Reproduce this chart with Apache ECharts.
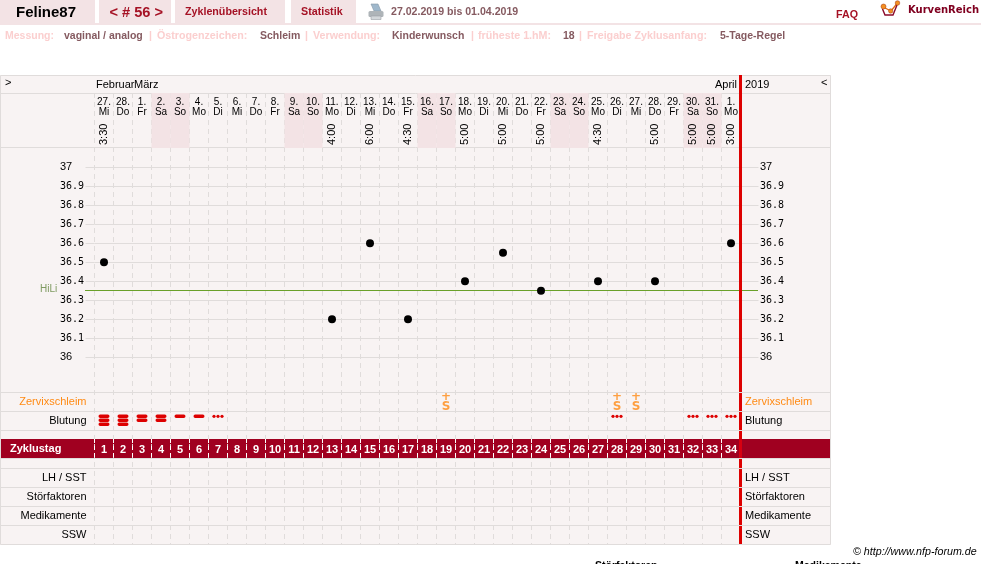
<!DOCTYPE html>
<html><head><meta charset="utf-8">
<style>html,body{margin:0;padding:0;background:#fff}#c{width:981px;height:564px}</style>
<script src="https://cdn.jsdelivr.net/npm/echarts@6/dist/echarts.min.js"></script>
</head><body><div id="c"></div>
<script>
// ---- data ----
const cycleDays = ['1','2','3','4','5','6','7','8','9','10','11','12','13','14','15','16','17','18','19','20','21','22','23','24','25','26','27','28','29','30','31','32','33','34'];
const dateNums = ['27.','28.','1.','2.','3.','4.','5.','6.','7.','8.','9.','10.','11.','12.','13.','14.','15.','16.','17.','18.','19.','20.','21.','22.','23.','24.','25.','26.','27.','28.','29.','30.','31.','1.'];
const weekdays = ['Mi','Do','Fr','Sa','So','Mo','Di','Mi','Do','Fr','Sa','So','Mo','Di','Mi','Do','Fr','Sa','So','Mo','Di','Mi','Do','Fr','Sa','So','Mo','Di','Mi','Do','Fr','Sa','So','Mo'];
const times = ['3:30','','','','','','','','','','','','4:00','','6:00','','4:30','','','5:00','','5:00','','5:00','','','4:30','','','5:00','','5:00','5:00','3:00'];
const temps = [36.5,null,null,null,null,null,null,null,null,null,null,null,36.2,null,36.6,null,36.2,null,null,36.4,null,36.55,null,36.35,null,null,36.4,null,null,36.4,null,null,null,36.6];
const hiLi = 36.35;
const mucusDays = ['19','28','29'];
// 0 none, 1 dots, 2 one bar, 3 two bars, 4 three bars
const bleeding = [4,4,3,3,2,2,1,0,0,0,0,0,0,0,0,0,0,0,0,0,0,0,0,0,0,0,0,1,0,0,0,1,1,1];
const upperRows = ['Zervixschleim','Blutung'];
const lowerRows = ['LH / SST','Störfaktoren','Medikamente','SSW'];
const months = [['Februar',96],['März',134],['April',715]];

// ---- layout / style ----
const F = '"Liberation Sans", Arial, sans-serif';
const L = 94.5, W = 646;
const GRID = '#e0dcdb', BG = '#f8f3f3', PINK = '#f3e3e5', RED = '#dd0000', DARK = '#a00020', WINE = '#a51225', MUTED = '#855a60', PALE = '#fbcfcf', ORANGE = '#ff8a14';
const dayIndex = d => cycleDays.indexOf(d);

const isWeekend = weekdays.map(w => (w === 'Sa' || w === 'So') ? 1 : 0);

function txt(text, x, y, font, fill, align) {
  return {type:'text', z:20, silent:true, style:{text, x, y, font:font, fill:fill, textAlign:align||'left', textVerticalAlign:'middle'}};
}
function rect(x, y, w, h, fill, z) {
  return {type:'rect', z:z===undefined?-5:z, silent:true, shape:{x,y,width:w,height:h}, style:{fill}};
}
function hline(y, z) {
  return {type:'line', z:z, silent:true, shape:{x1:1,y1:y+.5,x2:830,y2:y+.5}, style:{stroke:GRID,lineWidth:1}};
}
const B11 = 'bold 10.7px '+F, B10 = 'bold 10.5px '+F, BP = 'bold 10.7px '+F, N11 = '11px '+F;
const graphics = [
  rect(0,0,95,23,PINK), rect(99,0,72,23,PINK), rect(175,0,110,23,PINK), rect(291,0,65,23,PINK),
  rect(0,23,981,2,PINK),
  txt('Feline87',16,12.5,'bold 15px '+F,'#000'),
  txt('< # 56 >',109.5,13,'bold 14.6px '+F,WINE),
  txt('Zyklenübersicht',185,12.5,B11,WINE),
  txt('Statistik',301,12.5,B11,WINE),
  txt('27.02.2019 bis 01.04.2019',391,12.5,'bold 10.6px '+F,MUTED),
  txt('FAQ',836,15,B11,WINE),
  txt('KurvenReich',908,10.5,'bold 10px "DejaVu Sans", sans-serif','#800020'),
  // printer icon
  {type:'polygon',z:20,silent:true,shape:{points:[[371,4],[378,4],[381,11],[374,11]]},style:{fill:'#9fb8cc',stroke:'#8898a6',lineWidth:.6}},
  {type:'rect',z:20,silent:true,shape:{x:368.5,y:11,width:15,height:6,r:1.5},style:{fill:'#aeb4b8'}},
  {type:'rect',z:20,silent:true,shape:{x:371,y:16,width:10,height:3.5},style:{fill:'#d3d7da',stroke:'#9aa0a4',lineWidth:.6}},
  // logo
  {type:'polyline',z:20,silent:true,shape:{points:[[883,7],[891,11],[897.5,3]]},style:{stroke:'#e06a10',lineWidth:1.3,fill:'none'}},
  {type:'polyline',z:20,silent:true,shape:{points:[[882.5,9],[885,15],[893,15],[897,5]]},style:{stroke:'#8a0a2a',lineWidth:1.4,fill:'none'}},
  {type:'circle',z:21,silent:true,shape:{cx:883.5,cy:6.5,r:2.5},style:{fill:'#f39020',stroke:'#a03010',lineWidth:.5}},
  {type:'circle',z:21,silent:true,shape:{cx:890.7,cy:11,r:2.2},style:{fill:'#f39020',stroke:'#a03010',lineWidth:.5}},
  {type:'circle',z:21,silent:true,shape:{cx:897.5,cy:3,r:2.3},style:{fill:'#f39020',stroke:'#a03010',lineWidth:.5}},
  // settings line
  txt('Messung:',5,36,B10,PALE), txt('vaginal / analog',64,36,B10,MUTED), txt('|',149,36,B10,PALE),
  txt('Östrogenzeichen:',157,36,BP,PALE), txt('Schleim',260,36,B10,MUTED), txt('|',305,36,B10,PALE),
  txt('Verwendung:',313,36,BP,PALE), txt('Kinderwunsch',392,36,B10,MUTED), txt('|',471,36,B10,PALE),
  txt('früheste 1.hM:',478,36,BP,PALE), txt('18',563,36,B10,MUTED), txt('|',579,36,B10,PALE),
  txt('Freigabe Zyklusanfang:',587,36,BP,PALE), txt('5-Tage-Regel',720,36,B10,MUTED),
  // panel
  rect(0,75,831,470,BG),
  {type:'rect',z:-4,silent:true,shape:{x:.5,y:75.5,width:830,height:469},style:{fill:'none',stroke:GRID,lineWidth:1}},
  hline(93,-3), hline(147,-3),
  rect(1,439,829,19,DARK,-2),
  rect(739,75,3,470,RED,5),
  hline(392,6),hline(411,6),hline(430,6),hline(468,6),hline(487,6),hline(506,6),hline(525,6),hline(544,6),
  hline(458,6),
  rect(739,439,3,19,'#d80010',7),
  txt('>',5,83,N11,'#000'), txt('<',821,83,N11,'#000'), txt('2019',745,85,N11,'#000'),
  txt('HiLi',40,289.5,'10px '+F,'#7f9a60'),
  txt('© http://www.nfp-forum.de',853,552,'italic 10.7px '+F,'#000'),
  txt('Störfaktoren',595,566,'bold 10.5px '+F,'#000'), txt('Medikamente',795,566,'bold 10.5px '+F,'#000')
].concat(months.map(m => txt(m[0],m[1],85,N11,'#000')));

const hiddenX = g => ({type:'category',gridIndex:g,data:cycleDays,boundaryGap:true,show:false});
const dashX = {show:true,interval:0,lineStyle:{color:GRID,type:[5,4],width:1}};
const rowLabel = (extra) => Object.assign({color:'#000',fontFamily:F,fontSize:11}, extra);
const rowAxis = (grid, rows, pos) => ({
  type:'category',gridIndex:grid,data:rows,inverse:true,position:pos,
  axisLine:{show:false},axisTick:{show:false},splitLine:{show:false},
  axisLabel: pos==='left'
    ? rowLabel({align:'right',margin:8,color:v=>v==='Zervixschleim'?ORANGE:'#000'})
    : rowLabel({align:'left',margin:4.5,color:v=>v==='Zervixschleim'?ORANGE:'#000'})
});
const tempFmt = v => { const n = Number(v.toFixed(1)); return Number.isInteger(n) ? '{a|'+n+'}' : '{b|'+n.toFixed(1)+'}'; };
const tempRich = {a:{fontFamily:F,fontSize:11,color:'#000'},b:{fontFamily:'"DejaVu Sans Mono",monospace',fontSize:10,color:'#000'}};

const option = {
  animation:false,
  backgroundColor:'#fff',
  textStyle:{fontFamily:F},
  graphic:{elements:graphics},
  grid:[
    {left:L,width:W,top:93,height:55},     // 0 date header
    {left:L,width:W,top:167.3,height:190}, // 1 temperatures
    {left:L,width:W,top:93,height:452},    // 2 dashed columns
    {left:L,width:W,top:392,height:38},    // 3 mucus / bleeding rows
    {left:L,width:W,top:439,height:19},    // 4 cycle-day band
    {left:L,width:W,top:468,height:76},    // 5 lower rows
    {left:85,width:673,top:167,height:190} // 6 HiLi rule, wider than the columns
  ],
  xAxis:[
    {type:'category',gridIndex:0,position:'top',z:4,data:dateNums.map((d,i)=>d+'\n'+weekdays[i]),
      axisLine:{show:false},axisTick:{show:false},
      axisLabel:{interval:0,inside:true,margin:4,fontFamily:'"Liberation Sans Narrow","Liberation Sans"',fontSize:10,lineHeight:10,color:'#000'}},
    {type:'category',gridIndex:0,position:'bottom',z:4,data:times,
      axisLine:{show:false},axisTick:{show:false},
      axisLabel:{interval:0,inside:true,rotate:90,margin:3,fontFamily:F,fontSize:11,color:'#000'}},
    hiddenX(1),
    {type:'category',gridIndex:2,data:cycleDays,axisLine:{show:false},axisTick:{show:false},axisLabel:{show:false},splitLine:dashX},
    hiddenX(3),
    {type:'category',gridIndex:4,data:cycleDays,axisLine:{show:false},axisTick:{show:false},
      axisLabel:{interval:0,inside:true,margin:3,color:'#fff',fontFamily:F,fontWeight:'bold',fontSize:11},
      splitLine:{show:true,interval:0,lineStyle:{color:'#fff',type:[4,3],width:1}}},
    hiddenX(5),
    {type:'value',gridIndex:6,min:0,max:1,show:false}
  ],
  yAxis:[
    {type:'value',gridIndex:0,min:0,max:1,show:false},
    {type:'value',gridIndex:1,min:36,max:37,interval:.1,position:'left',
      axisLine:{show:false},axisTick:{show:true,length:9,lineStyle:{color:GRID}},
      splitLine:{show:true,lineStyle:{color:GRID}},
      axisLabel:{align:'left',margin:34.5,formatter:tempFmt,rich:tempRich}},
    {type:'value',gridIndex:1,min:36,max:37,interval:.1,position:'right',
      axisLine:{show:false},axisTick:{show:true,length:18,lineStyle:{color:GRID}},
      splitLine:{show:false},
      axisLabel:{align:'left',margin:19.5,formatter:tempFmt,rich:tempRich}},
    {type:'value',gridIndex:2,min:0,max:1,show:false,splitLine:{show:false}},
    rowAxis(3,upperRows,'left'),
    rowAxis(3,upperRows,'right'),
    {type:'category',gridIndex:4,data:['Zyklustag'],axisLine:{show:false},axisTick:{show:false},
      axisLabel:{align:'left',margin:84.5,color:'#fff',fontFamily:F,fontWeight:'bold',fontSize:11}},
    rowAxis(5,lowerRows,'left'),
    rowAxis(5,lowerRows,'right'),
    {type:'value',gridIndex:6,min:36,max:37,show:false}
  ],
  series:[
    {type:'bar',xAxisIndex:0,yAxisIndex:0,data:isWeekend,barWidth:'100%',itemStyle:{color:PINK},silent:true,z:1},
    {type:'line',xAxisIndex:7,yAxisIndex:9,data:[[0,hiLi],[1,hiLi]],symbol:'none',silent:true,z:2,
      lineStyle:{color:'#6aa02a',width:1}},
    {type:'scatter',xAxisIndex:2,yAxisIndex:1,data:temps,symbol:'circle',symbolSize:8,itemStyle:{color:'#000',opacity:1},silent:true,z:3},
    {type:'scatter',xAxisIndex:4,yAxisIndex:4,data:mucusDays.map(d=>[dayIndex(d),upperRows[0]]),symbolSize:0,silent:true,z:3,
      label:{show:true,position:'inside',formatter:'+\nS',color:ORANGE,fontFamily:'"DejaVu Sans",sans-serif',fontWeight:'bold',fontSize:12,lineHeight:10}},
    {type:'custom',xAxisIndex:4,yAxisIndex:4,silent:true,z:3,clip:false,
      data:bleeding.map((b,i)=>[i,upperRows[1],b]),
      renderItem:(p,api)=>{
        const level = api.value(2);
        if(!level) return null;
        const c = api.coord([api.value(0),upperRows[1]]);
        const top = c[1]-4.2, kids = [];
        if(level===1){
          [-4,0,4].forEach(dx=>kids.push({type:'circle',shape:{cx:c[0]+dx,cy:top,r:1.6},style:{fill:RED}}));
        } else {
          for(let k=0;k<level-1;k++) kids.push({type:'rect',shape:{x:c[0]-5.5,y:top-1.7+k*4,width:11,height:3.4,r:1.7},style:{fill:RED}});
        }
        return {type:'group',children:kids};
      }}
  ]
};
const chart = echarts.init(document.getElementById('c'),null,{renderer:'canvas'});
chart.setOption(option);
</script></body></html>
